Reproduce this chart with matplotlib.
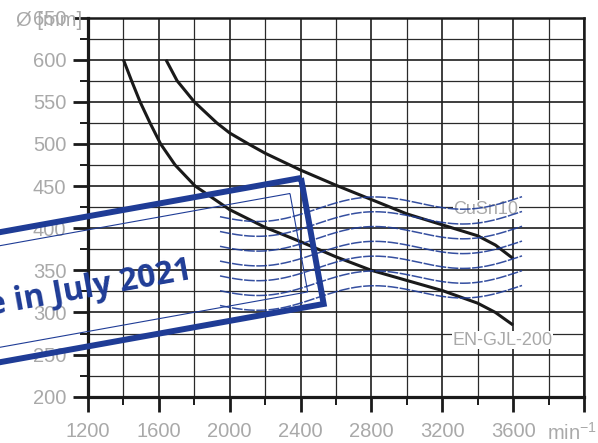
import numpy as np
import matplotlib
matplotlib.use("Agg")
import matplotlib.pyplot as plt
from matplotlib.patches import Polygon

plt.rcParams['font.family'] = ['Liberation Sans', 'DejaVu Sans']
plt.rcParams['mathtext.fontset'] = 'custom'
plt.rcParams['mathtext.rm'] = 'Liberation Sans'
plt.rcParams['mathtext.default'] = 'regular'

# curve data (speed [min-1] -> diameter [mm])
rpm_gjl = [1400, 1446, 1494, 1550, 1610, 1692, 1805, 2000, 2200, 2400,
           2600, 2800, 3000, 3200, 3400, 3500, 3600]
dia_gjl = [600, 575, 550, 525, 500, 475, 450, 422, 401, 384,
           366, 350, 338, 326, 311, 300, 285]

rpm_cusn = [1640, 1703, 1800, 1927, 2000, 2106, 2200, 2400, 2600, 2800,
            3000, 3200, 3400, 3500, 3600]
dia_cusn = [600, 575, 550, 525, 513, 500, 489, 469, 451, 434,
            417, 404, 391, 380, 364]

x_major = [1200, 1600, 2000, 2400, 2800, 3200, 3600, 4000]
x_labels = ['1200', '1600', '2000', '2400', '2800', '3200', '3600', '']
y_major = [200, 250, 300, 350, 400, 450, 500, 550, 600, 650]

gray = '#a9a9a9'
blue = '#1f3c96'

fig = plt.figure(figsize=(5.98, 4.43), dpi=100)
ax = fig.add_axes([88/598, 1 - 396.7/443, 496/598, 379.1/443])

ax.set_xlim(1200, 4000)
ax.set_ylim(200, 650)
ax.set_xticks(x_major)
ax.set_xticklabels(x_labels)
ax.set_xticks(np.arange(1400, 4000, 400), minor=True)
ax.set_yticks(y_major)
ax.set_yticks(np.arange(225, 650, 50), minor=True)

ax.grid(which='major', color='#1e1e1e', lw=1.2)
ax.grid(which='minor', color='#2a2a2a', lw=0.9)
ax.set_axisbelow(True)

ax.tick_params(which='major', length=10.5, width=2.0, color='#1a1a1a',
               labelsize=14.5, labelcolor=gray, pad=5)
ax.tick_params(which='minor', length=5.8, width=1.4, color='#1a1a1a')
ax.tick_params(axis='x', which='major', pad=8)
for s in ['left', 'bottom']:
    ax.spines[s].set_linewidth(2.3)
for s in ['top', 'right']:
    ax.spines[s].set_linewidth(1.8)
for s in ax.spines.values():
    s.set_color('#1a1a1a')

ax.plot(rpm_gjl, dia_gjl, color='#1a1a1a', lw=2.2, solid_capstyle='butt',
        solid_joinstyle='round', zorder=3)
ax.plot(rpm_cusn, dia_cusn, color='#1a1a1a', lw=2.2, solid_capstyle='butt',
        solid_joinstyle='round', zorder=3)

ax.text(3446, 422, 'CuSn10', fontsize=13, color=gray, ha='center', va='center',
        bbox=dict(facecolor='white', edgecolor='none', pad=0.5), zorder=2.5)
ax.text(3539, 267, 'EN-GJL-200', fontsize=13, color=gray, ha='center', va='center',
        bbox=dict(facecolor='white', edgecolor='none', pad=0.5), zorder=2.5)

fig.text(82/598, 1 - 20/443, 'Ø [mm]', fontsize=14.5, color=gray, ha='right', va='center')
fig.text(547/598, 1 - 433/443, 'min$^{-1}$', fontsize=14.5, color=gray, ha='left', va='center')

# stamp overlay, drawn in figure pixel space
ov = fig.add_axes([0, 0, 1, 1], zorder=5)
ov.set_xlim(0, 598)
ov.set_ylim(443, 0)
ov.axis('off')
ov.patch.set_alpha(0)

th = np.deg2rad(10.2)
u = np.array([-np.cos(th), np.sin(th)])
v = np.array([np.sin(th), np.cos(th)])

tr = np.array([301, 178])
outer = [tr, tr + 128*v, tr + 128*v + 700*u, tr + 700*u]
ov.add_patch(Polygon(outer, closed=True, fill=False, ec=blue, lw=4.3, joinstyle='miter'))
tr2 = np.array([290, 193.5])
inner = [tr2, tr2 + 100*v, tr2 + 100*v + 700*u, tr2 + 700*u]
ov.add_patch(Polygon(inner, closed=True, fill=False, ec=blue, lw=0.8, joinstyle='miter'))

ov.text(193, 279, 'Available in July 2021', fontsize=23, color=blue,
        family=['Open Sans', 'DejaVu Sans'], fontweight='bold',
        rotation=10.2, rotation_mode='anchor', ha='right', va='baseline')

wx = np.linspace(220, 522, 200)
for i in range(7):
    base = 215 + 14.8*i
    wy = base - 0.06*(wx - 220) + 9*np.cos(2*np.pi*(wx - 265)/205)
    ov.plot(wx, wy, color=blue, lw=1.1, alpha=0.9, ls=(0, (7, 1)))

fig.savefig('out.png', dpi=100)
